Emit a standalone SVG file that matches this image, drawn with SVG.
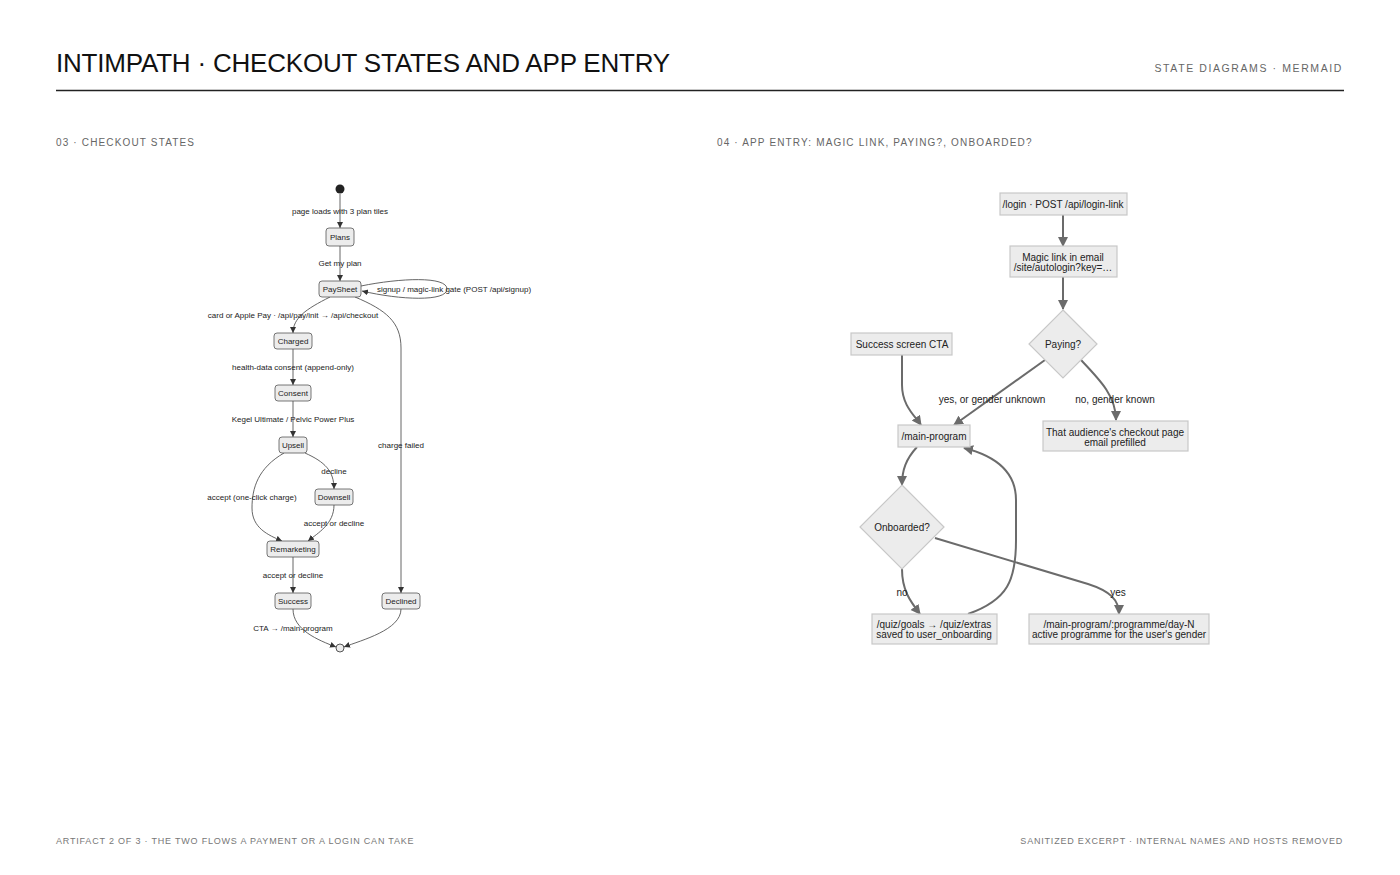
<svg xmlns="http://www.w3.org/2000/svg" width="1400" height="875" viewBox="0 0 1400 875">
<defs>
<style>
.title{font-family:"Liberation Sans",Arial,sans-serif;font-size:26px;fill:#111;letter-spacing:-0.2px}
.meta{font-family:"Liberation Sans",Arial,sans-serif;font-size:10.5px;fill:#666;letter-spacing:1.6px}
.sec{font-family:"Liberation Sans",Arial,sans-serif;font-size:10px;fill:#666;letter-spacing:1.15px}
.foot{font-family:"Liberation Sans",Arial,sans-serif;font-size:9px;fill:#777;letter-spacing:0.8px}
.st{fill:#ececec;stroke:#555;stroke-width:0.8}
.stt{font-family:"Liberation Sans",Arial,sans-serif;font-size:8px;fill:#222;text-anchor:middle}
.sl{font-family:"Liberation Sans",Arial,sans-serif;font-size:8px;fill:#222;text-anchor:middle}
.se{fill:none;stroke:#555;stroke-width:0.9;marker-end:url(#sa)}
.fb{fill:#ececec;stroke:#c8c8c8;stroke-width:1.2}
.ft{font-family:"Liberation Sans",Arial,sans-serif;font-size:10px;fill:#222;text-anchor:middle}
.fe{fill:none;stroke:#6b6b6b;stroke-width:2;marker-end:url(#fa)}
</style>
<marker id="sa" markerUnits="userSpaceOnUse" markerWidth="7" markerHeight="7" refX="6" refY="3" orient="auto">
<path d="M0,0 L6,3 L0,6 z" fill="#333"/>
</marker>
<marker id="fa" markerUnits="userSpaceOnUse" markerWidth="12" markerHeight="12" refX="9" refY="5" orient="auto">
<path d="M0,0 L10,5 L0,10 z" fill="#6b6b6b"/>
</marker>
</defs>
<rect width="1400" height="875" fill="#fff"/>

<g id="header">
<text class="title" x="56" y="72">INTIMPATH · CHECKOUT STATES AND APP ENTRY</text>
<text class="meta" x="1343" y="72" text-anchor="end">STATE DIAGRAMS · MERMAID</text>
<line x1="56" y1="90.5" x2="1344" y2="90.5" stroke="#222" stroke-width="1.3"/>
<text class="sec" x="56" y="146">03 · CHECKOUT STATES</text>
<text class="sec" x="717" y="146">04 · APP ENTRY: MAGIC LINK, PAYING?, ONBOARDED?</text>
</g>

<g id="footer">
<text class="foot" x="56" y="844">ARTIFACT 2 OF 3 · THE TWO FLOWS A PAYMENT OR A LOGIN CAN TAKE</text>
<text class="foot" x="1343" y="844" text-anchor="end">SANITIZED EXCERPT · INTERNAL NAMES AND HOSTS REMOVED</text>
</g>

<!-- Checkout states -->
<g id="checkout-connectors">
<path class="se" d="M340,194 L340,228"/>
<path class="se" d="M340,246 L340,281"/>
<path class="se" d="M361,286 C400,278 447,276 447,289 C447,302 400,300 362,291"/>
<path class="se" d="M330,297 C306,309 293,318 293,333"/>
<path class="se" d="M355,297 C386,310 401,322 401,348 L401,593"/>
<path class="se" d="M293,349 L293,385"/>
<path class="se" d="M293,401 L293,437"/>
<path class="se" d="M305,453 C325,462 334,471 334,489"/>
<path class="se" d="M284,453 C258,468 252,488 252,508 C252,528 268,535 282,541"/>
<path class="se" d="M334,505 C334,524 318,533 308,541"/>
<path class="se" d="M293,557 L293,593"/>
<path class="se" d="M293,609 C293,630 318,640 336,647"/>
<path class="se" d="M401,609 C401,630 362,640 344,647"/>
<text class="sl" x="340" y="214">page loads with 3 plan tiles</text>
<text class="sl" x="340" y="266">Get my plan</text>
<text class="sl" x="454" y="292">signup / magic-link gate (POST /api/signup)</text>
<text class="sl" x="293" y="318">card or Apple Pay · /api/pay/init → /api/checkout</text>
<text class="sl" x="401" y="448">charge failed</text>
<text class="sl" x="293" y="370">health-data consent (append-only)</text>
<text class="sl" x="293" y="422">Kegel Ultimate / Pelvic Power Plus</text>
<text class="sl" x="334" y="474">decline</text>
<text class="sl" x="252" y="500">accept (one-click charge)</text>
<text class="sl" x="334" y="526">accept or decline</text>
<text class="sl" x="293" y="578">accept or decline</text>
<text class="sl" x="293" y="631">CTA → /main-program</text>
</g>
<g id="start"><circle cx="340" cy="189" r="4.5" fill="#222"/></g>
<g id="plans"><rect class="st" x="326" y="228" width="28" height="18" rx="3"/><text class="stt" x="340" y="240">Plans</text></g>
<g id="paysheet"><rect class="st" x="319" y="281" width="42" height="16" rx="3"/><text class="stt" x="340" y="292">PaySheet</text></g>
<g id="charged"><rect class="st" x="274" y="333" width="38" height="16" rx="3"/><text class="stt" x="293" y="344">Charged</text></g>
<g id="consent"><rect class="st" x="275" y="385" width="36" height="16" rx="3"/><text class="stt" x="293" y="396">Consent</text></g>
<g id="upsell"><rect class="st" x="279" y="437" width="28" height="16" rx="3"/><text class="stt" x="293" y="448">Upsell</text></g>
<g id="downsell"><rect class="st" x="315" y="489" width="38" height="16" rx="3"/><text class="stt" x="334" y="500">Downsell</text></g>
<g id="remarketing"><rect class="st" x="267" y="541" width="52" height="16" rx="3"/><text class="stt" x="293" y="552">Remarketing</text></g>
<g id="success"><rect class="st" x="275" y="593" width="36" height="16" rx="3"/><text class="stt" x="293" y="604">Success</text></g>
<g id="declined"><rect class="st" x="382" y="593" width="38" height="16" rx="3"/><text class="stt" x="401" y="604">Declined</text></g>
<g id="end"><circle cx="340" cy="648" r="4" fill="#ececec" stroke="#444" stroke-width="0.9"/></g>

<!-- App entry -->
<g id="entry-connectors">
<path class="fe" d="M1063,215 L1063,246"/>
<path class="fe" d="M1063,277 L1063,309"/>
<path class="fe" d="M902,355 L902,385 C902,405 914,415 921,425"/>
<path class="fe" d="M1045,360 L954,425"/>
<path class="fe" d="M1081,360 C1100,380 1116,396 1116,420"/>
<path class="fe" d="M917,447 C906,459 902,470 902,485"/>
<path class="fe" d="M902,569 C902,590 910,601 920,614"/>
<path class="fe" d="M935,538 L1088,584 C1110,591 1119,600 1119,614"/>
<path class="fe" d="M968,614 C1008,600 1016,580 1016,540 L1016,500 C1016,470 992,455 964,448"/>
<text class="ft" x="992" y="403">yes, or gender unknown</text>
<text class="ft" x="1115" y="403">no, gender known</text>
<text class="ft" x="902" y="596">no</text>
<text class="ft" x="1118" y="596">yes</text>
</g>
<g id="login"><rect class="fb" x="1000" y="193" width="127" height="22"/><text class="ft" x="1063" y="208">/login · POST /api/login-link</text></g>
<g id="magic"><rect class="fb" x="1010" y="246" width="107" height="31"/><text class="ft" x="1063" y="261">Magic link in email</text><text class="ft" x="1063" y="271">/site/autologin?key=…</text></g>
<g id="paying"><polygon class="fb" points="1063,310 1097,344 1063,378 1029,344"/><text class="ft" x="1063" y="348">Paying?</text></g>
<g id="success-cta"><rect class="fb" x="851" y="333" width="101" height="22"/><text class="ft" x="902" y="348">Success screen CTA</text></g>
<g id="main-program"><rect class="fb" x="898" y="425" width="72" height="22"/><text class="ft" x="934" y="440">/main-program</text></g>
<g id="checkout-page"><rect class="fb" x="1043" y="421" width="145" height="30"/><text class="ft" x="1115" y="436">That audience's checkout page</text><text class="ft" x="1115" y="446">email prefilled</text></g>
<g id="onboarded"><polygon class="fb" points="902,485 944,527 902,569 860,527"/><text class="ft" x="902" y="531">Onboarded?</text></g>
<g id="quiz"><rect class="fb" x="872" y="614" width="125" height="30"/><text class="ft" x="934" y="628">/quiz/goals → /quiz/extras</text><text class="ft" x="934" y="638">saved to user_onboarding</text></g>
<g id="programme"><rect class="fb" x="1029" y="614" width="180" height="30"/><text class="ft" x="1119" y="628">/main-program/:programme/day-N</text><text class="ft" x="1119" y="638">active programme for the user's gender</text></g>
</svg>
